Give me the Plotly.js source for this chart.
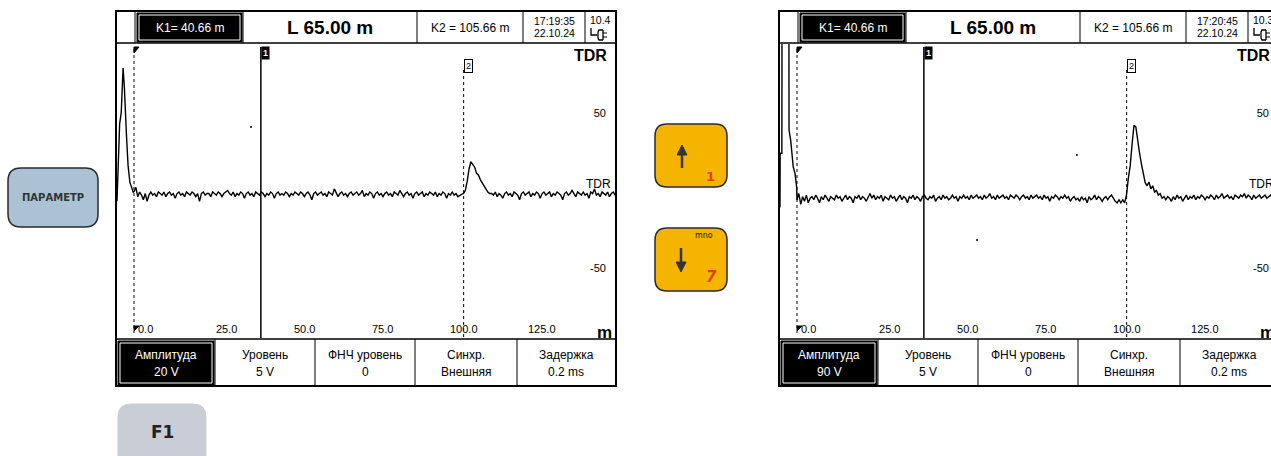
<!DOCTYPE html>
<html><head><meta charset="utf-8">
<script src="https://cdn.plot.ly/plotly-3.0.1.min.js"></script>
<style>html,body{margin:0;padding:0;background:#fff;}#chart{width:1271px;height:456px;}</style>
</head><body><div id="chart"></div>
<script>
// ---------------- DATA ----------------
const distTicks = [0, 25, 50, 75, 100, 125];
const distTickLabels = ['0.0', '25.0', '50.0', '75.0', '100.0', '125.0'];
const levelTicks = [50, -50];
const levelTickLabels = ['50', '-50'];
const cursorK1 = 40.66;
const cursorK2 = 105.66;
const cursorLen = 65.00;
const sampleStep = 0.6;

const leftTime = ['17:19:35', '22.10.24'];
const rightTime = ['17:20:45', '22.10.24'];
const leftBattery = '10.4';
const rightBattery = '10.3';
const menuLabels = ['Амплитуда', 'Уровень', 'ФНЧ уровень', 'Синхр.', 'Задержка'];
const leftMenuValues = ['20 V', '5 V', '0', 'Внешняя', '0.2 ms'];
const rightMenuValues = ['90 V', '5 V', '0', 'Внешняя', '0.2 ms'];

// launch pulse (before the 0.0 marker)
const leftPulseX = [-5.45, -5.1, -4.6, -4.1, -3.75, -3.5, -3.1, -2.9, -2.4, -1.9, -1.3, -0.75, -0.3, 0];
const leftPulseY = [-7, 13, 43, 50, 70, 79, 67, 54, 35, 16, 5, 2, -1, -1];
const rightPulseX = [-5.45, -5.4, -4.85, -4.8, -2.6, -2.56, -2.0, -1.7, -1.2, -0.64, -0.1, 0];
const rightPulseY = [-11, 24, 24, 130, 130, 39, 32, 26, 15, 11, 2, -6];

// trace from 0 m, one value every 0.6 m
const leftTrace = [
 -1, 2, -4, -1, -3, -6, -2, -7, -3, -1,
 -3, -2, -4, -1, -2, -3, -1, -4, -2, -1,
 -3, -2, -5, -2, -1, -3, -2, -4, -1, -2,
 -3, -1, -2, -4, -2, -7, -2, -1, -3, -2,
 -2, -4, -1, -2, -3, -1, -2, -4, -2, -1,
 0, -2, -3, -1, -4, -2, -3, -1, -2, -5,
 -2, -1, -3, -2, -4, -1, -2, -3, -1, -2,
 -4, -2, -3, -1, -2, -5, -2, -1, -3, -2,
 -3, -1, -2, -4, -2, -3, -1, -2, -3, -1,
 -2, -4, -2, -1, -3, -6, -2, -1, -3, -2,
 -1, -3, -2, -4, -1, -2, -3, 1, -2, -4,
 -2, -1, -3, -2, -4, -2, -1, -3, -2, -1,
 -3, -2, 0, -4, -2, -3, -1, -2, -5, -2,
 -1, -3, -2, -4, -2, -1, -3, -2, -4, -1,
 -2, -3, 0, -2, -4, -2, -1, -3, -2, -5,
 -2, -1, -3, -2, -1, -4, -2, -3, -1, -2,
 -3, -1, -4, -2, -3, -1, -2, -5, -2, -3,
 -1, -3, -2, -4,
 -3, -2.5, -2, 0, 6, 14, 18.5, 17, 15, 11, 10, 7, 5, 3.5, 1, -1, -2,
 -2, -3, -1, -4, -2, -3, -5, -2, -1,
 -3, -2, -4, -1, -2, -3, -6, -2, -1, -3,
 -2, -1, -4, -2, -3, -1, -2, -5, -2, -1,
 -3, -2, -1, -4, -2, -3, -1, -2, -3, -6,
 -2, -1, -3, -2, 0, -2, -4, -1, -2, -3,
 -1, -3, -2, -5, -1, -2, 1, -3, -2, -4,
 -1, -2, -3, -1, -4, -2, -1, -3
];
const rightTrace = [
 -6, -2, -9, -4, -7, -3, -8, -5, -4, -6,
 -3, -5, -8, -4, -6, -3, -5, -7, -4, -5,
 -6, -3, -5, -4, -7, -5, -3, -6, -4, -5,
 -8, -4, -5, -3, -6, -4, -5, -7, -4, -2,
 -5, -3, -6, -4, -5, -3, -7, -4, -5, -6,
 -3, -5, -4, -7, -5, -3, -6, -4, -5, -8,
 -4, -5, -3, -6, -4, -5, -7, -4, -3, -5,
 -6, -4, -5, -3, -7, -5, -4, -6, -3, -5,
 -4, -6, -5, -3, -5, -4, -7, -4, -5, -3,
 -5, -4, -6, -3, -5, -4, -3, -5, -4, -6,
 -3, -5, -4, -2, -5, -4, -6, -3, -5, -4,
 -3, -5, -4, -6, -3, -4, -5, -3, -4, -6,
 -4, -3, -5, -4, -6, -3, -5, -4, -3, -5,
 -4, -6, -3, -5, -4, -7, -4, -5, -3, -4,
 -6, -4, -5, -3, -5, -4, -7, -5, -4, -6,
 -5, -7, -4, -6, -5, -8, -4, -6, -5, -3,
 -6, -4, -5, -7, -5, -4, -6, -4, -3, -5,
 -7, -8, -6, -8,
 -6, -8, -3, 8, 16, 30, 42, 41, 31, 24, 17, 12, 5, 3, 5.5, 1, 3, -1, 0, -3, -2, -5, -4, -6,
 -4, -5, -7, -4, -6, -3, -5, -4, -7, -5, -3, -6,
 -4, -5, -3, -6, -4, -5, -3, -4, -6, -4,
 -5, -3, -4, -6, -3, -5, -4, -2, -5, -4,
 -3, -5, -4, -6, -3, -4, -5, -3, -4, -2,
 -5, -3, -4, -6, -3, -5, -4, -3, -5, -4,
 -3, -5, -4, -3, -5, -4, -3, -4
];
const leftDotsX = [37.5], leftDotsY = [41];
const rightDotsX = [57.7, 89.7], rightDotsY = [-32, 22.9];

// ---------------- DRAWING ----------------
const W = 1271, H = 456;
const fx = p => p / W, fy = p => 1 - p / H;
const shapes = [], ann = [];
const FONT = 'Liberation Sans, Arial, sans-serif';

function rect(x0, y0, x1, y1, o) {
  shapes.push(Object.assign({type: 'rect', xref: 'paper', yref: 'paper', x0: fx(x0), x1: fx(x1), y0: fy(y1), y1: fy(y0), line: {color: '#000', width: 1}}, o || {}));
}
function seg(x0, y0, x1, y1, o) {
  shapes.push(Object.assign({type: 'line', xref: 'paper', yref: 'paper', x0: fx(x0), x1: fx(x1), y0: fy(y0), y1: fy(y1), line: {color: '#000', width: 1}}, o || {}));
}
function poly(pts, closed, o) {
  let d = pts.map((p, i) => (i ? 'L' : 'M') + fx(p[0]) + ',' + fy(p[1])).join(' ') + (closed ? ' Z' : '');
  shapes.push(Object.assign({type: 'path', xref: 'paper', yref: 'paper', path: d, line: {color: '#000', width: 1}}, o || {}));
}
function rrect(x0, y0, x1, y1, r, o) {
  const P = (x, y) => fx(x) + ',' + fy(y);
  const d = 'M' + P(x0 + r, y0) + ' L' + P(x1 - r, y0) + ' Q' + P(x1, y0) + ' ' + P(x1, y0 + r) +
    ' L' + P(x1, y1 - r) + ' Q' + P(x1, y1) + ' ' + P(x1 - r, y1) + ' L' + P(x0 + r, y1) +
    ' Q' + P(x0, y1) + ' ' + P(x0, y1 - r) + ' L' + P(x0, y0 + r) + ' Q' + P(x0, y0) + ' ' + P(x0 + r, y0) + ' Z';
  shapes.push(Object.assign({type: 'path', xref: 'paper', yref: 'paper', path: d, line: {color: '#000', width: 1}}, o || {}));
}
function txt(x, y, text, size, o) {
  ann.push(Object.assign({xref: 'paper', yref: 'paper', x: fx(x), y: fy(y), text: text, showarrow: false,
    xanchor: 'center', yanchor: 'middle', font: {family: FONT, size: size, color: '#000'}}, o || {}));
}

function screen(o, xa, ya, time, battery, menuValues) {
  // outer frame
  rect(116 + o, 11, 616 + o, 386, {line: {color: '#000', width: 2}});
  // header
  seg(116 + o, 43, 616 + o, 43, {line: {color: '#000', width: 1.5}});
  [135, 243, 417, 523, 585].forEach(x => seg(x + o, 11, x + o, 43));
  rect(137 + o, 13, 242 + o, 42, {fillcolor: '#000'});
  rect(139 + o, 15, 240 + o, 40, {line: {color: '#fff', width: 1}});
  txt(190 + o, 28, 'K1= ' + cursorK1.toFixed(2) + ' m', 12, {font: {family: FONT, size: 12, color: '#fff'}});
  txt(330 + o, 27, '<b>L ' + cursorLen.toFixed(2) + ' m</b>', 19);
  txt(470 + o, 28, 'K2 = ' + cursorK2.toFixed(2) + ' m', 12);
  txt(554 + o, 21, time[0], 10.5);
  txt(554 + o, 33, time[1], 10.5);
  txt(600 + o, 20, battery, 10.5);
  // plug symbol
  poly([[591 + o, 28], [591 + o, 35], [597 + o, 35]], false, {line: {color: '#000', width: 1.3}});
  poly([[603 + o, 30], [599 + o, 30], [598 + o, 32], [598 + o, 38], [599 + o, 40], [603 + o, 40]], false, {line: {color: '#000', width: 1.3}});
  seg(603 + o, 30, 603 + o, 40, {line: {color: '#000', width: 1.3}});
  seg(603 + o, 33, 607 + o, 33); seg(603 + o, 37, 607 + o, 37);
  // menu
  seg(116 + o, 339, 616 + o, 339, {line: {color: '#000', width: 1.5}});
  [215, 315, 415, 517].forEach(x => seg(x + o, 339, x + o, 386));
  rect(118 + o, 341, 214 + o, 385, {fillcolor: '#000'});
  rect(120 + o, 343, 212 + o, 383, {line: {color: '#fff', width: 1}});
  const cx = [166, 265, 365, 466, 566];
  menuLabels.forEach((m, i) => {
    const col = i === 0 ? '#fff' : '#000';
    txt(cx[i] + o, 355, m, 12, {font: {family: FONT, size: 12, color: col}});
    txt(cx[i] + o, 372, menuValues[i], 12, {font: {family: FONT, size: 12, color: col}});
  });
  // plot labels
  txt(609 + o, 56, '<b>TDR</b>', 16, {xanchor: 'right'});
  txt(613 + o, 184, 'TDR', 12, {xanchor: 'right'});
  txt(614 + o, 332, '<b>m</b>', 17, {xanchor: 'right'});
  // cursors
  shapes.push({type: 'line', xref: xa, yref: 'paper', x0: cursorK1, x1: cursorK1, y0: fy(47), y1: fy(338), line: {color: '#000', width: 1.5}});
  shapes.push({type: 'line', xref: xa, yref: 'paper', x0: cursorK2, x1: cursorK2, y0: fy(70), y1: fy(338), line: {color: '#000', width: 1, dash: 'dot'}});
  shapes.push({type: 'line', xref: xa, yref: 'paper', x0: 0, x1: 0, y0: fy(49), y1: fy(333), line: {color: '#000', width: 1, dash: 'dot'}});
  ann.push({xref: xa, yref: 'paper', x: cursorK1, y: fy(46), xanchor: 'left', yanchor: 'top', showarrow: false,
    text: '<b>1</b>', font: {family: FONT, size: 9, color: '#fff'}, bgcolor: '#000', borderpad: 1});
  ann.push({xref: xa, yref: 'paper', x: cursorK2, y: fy(59), xanchor: 'left', yanchor: 'top', showarrow: false,
    text: '2', font: {family: FONT, size: 9, color: '#000'}, bgcolor: '#fff', bordercolor: '#000', borderwidth: 1, borderpad: 1});
  // zero marker flags
  poly([[134 + o, 47], [139 + o, 47], [134 + o, 53]], true, {fillcolor: '#000', line: {color: '#000', width: 1}});
  poly([[134 + o, 326], [139 + o, 326], [134 + o, 331]], true, {fillcolor: '#000', line: {color: '#000', width: 1}});
}

screen(0, 'x', 'y', leftTime, leftBattery, leftMenuValues);
screen(663, 'x2', 'y2', rightTime, rightBattery, rightMenuValues);

// buttons
rrect(8, 168, 98, 227, 13, {fillcolor: '#aac2d4', line: {color: '#2a2a2a', width: 1.5}});
txt(53, 197, '<b>ПАРАМЕТР</b>', 10, {font: {family: 'DejaVu Sans, sans-serif', size: 10, color: '#333'}});
rrect(655, 124, 727, 187, 12, {fillcolor: '#f4b400', line: {color: '#2a2a2a', width: 1.5}});
seg(682, 153, 682, 168, {line: {color: '#333', width: 2.5}});
poly([[677, 155], [687, 155], [682, 145]], true, {fillcolor: '#333', line: {color: '#333', width: 1}});
txt(710, 177, '<b>1</b>', 13, {font: {family: 'DejaVu Sans, sans-serif', size: 13, color: '#e3420f'}});
rrect(655, 228, 727, 291, 12, {fillcolor: '#f4b400', line: {color: '#2a2a2a', width: 1.5}});
txt(704, 235, 'mno', 8, {font: {family: 'DejaVu Sans, sans-serif', size: 8, color: '#222'}});
seg(681, 248, 681, 263, {line: {color: '#333', width: 2.5}});
poly([[676, 262], [686, 262], [681, 272]], true, {fillcolor: '#333', line: {color: '#333', width: 1}});
txt(711, 277, '<b><i>7</i></b>', 15, {font: {family: 'DejaVu Sans, sans-serif', size: 15, color: '#e3420f'}});
rrect(118, 404, 206, 470, 13, {fillcolor: '#c9cdd6', line: {color: '#c9cdd6', width: 1}});
txt(162, 432, '<b>F1</b>', 17, {font: {family: 'DejaVu Sans, sans-serif', size: 17, color: '#222'}});

function axisX(d0, d1, range, anchor) {
  return {domain: [fx(d0), fx(d1)], range: range, anchor: anchor, tickmode: 'array', tickvals: distTicks, ticktext: distTickLabels,
    ticks: '', ticklabelposition: 'inside right', ticklabelshift: 4, ticklabelstandoff: -3,
    showgrid: false, zeroline: false, showline: false, fixedrange: true,
    tickfont: {family: FONT, size: 11, color: '#000'}};
}
function axisY(anchor, standoff) {
  return {domain: [fy(338), fy(44)], range: [-95.2, 94.5], anchor: anchor, side: 'right', tickmode: 'array',
    tickvals: levelTicks, ticktext: levelTickLabels, ticks: '', ticklabelposition: 'inside', ticklabelstandoff: standoff,
    showgrid: false, zeroline: false, showline: false, fixedrange: true,
    tickfont: {family: FONT, size: 11, color: '#000'}};
}

const lineStyle = {color: '#000', width: 1.4};
const traces = [
  {type: 'scatter', mode: 'lines', x: leftPulseX, y: leftPulseY, line: lineStyle, xaxis: 'x', yaxis: 'y', hoverinfo: 'skip'},
  {type: 'scatter', mode: 'lines', x0: 0, dx: sampleStep, y: leftTrace, line: lineStyle, xaxis: 'x', yaxis: 'y', hoverinfo: 'skip'},
  {type: 'scatter', mode: 'markers', x: leftDotsX, y: leftDotsY, marker: {color: '#000', size: 2}, xaxis: 'x', yaxis: 'y', hoverinfo: 'skip'},
  {type: 'scatter', mode: 'lines', x: rightPulseX, y: rightPulseY, line: lineStyle, xaxis: 'x2', yaxis: 'y2', hoverinfo: 'skip'},
  {type: 'scatter', mode: 'lines', x0: 0, dx: sampleStep, y: rightTrace, line: lineStyle, xaxis: 'x2', yaxis: 'y2', hoverinfo: 'skip'},
  {type: 'scatter', mode: 'markers', x: rightDotsX, y: rightDotsY, marker: {color: '#000', size: 2}, xaxis: 'x2', yaxis: 'y2', hoverinfo: 'skip'}
];

const layout = {
  width: W, height: H, margin: {l: 0, r: 0, t: 0, b: 0, pad: 0},
  paper_bgcolor: '#fff', plot_bgcolor: '#fff', showlegend: false,
  xaxis: axisX(117, 615, [-5.45, 154.17], 'y'),
  yaxis: axisY('x', 6),
  xaxis2: axisX(780, 1271, [-5.45, 151.92], 'y2'),
  yaxis2: axisY('x2', -1),
  shapes: shapes, annotations: ann
};
Plotly.newPlot('chart', traces, layout, {displayModeBar: false, staticPlot: true});
</script></body></html>
